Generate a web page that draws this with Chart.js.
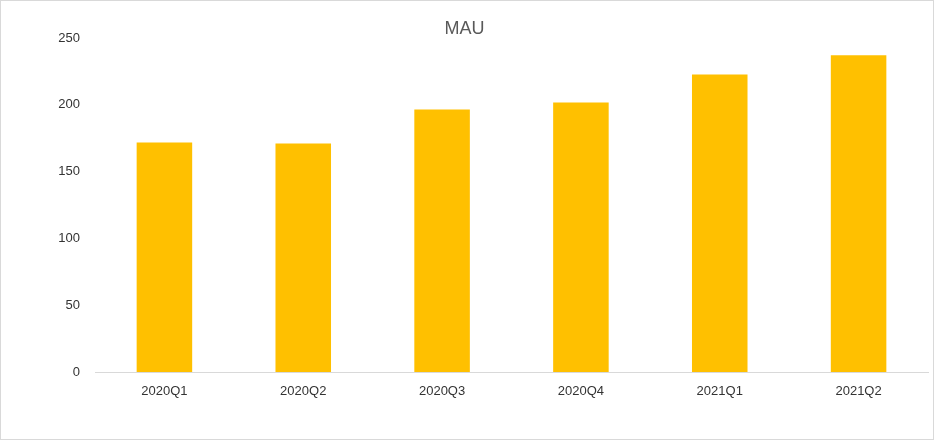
<!DOCTYPE html>
<html>
<head>
<meta charset="utf-8">
<script src="https://cdn.jsdelivr.net/npm/chart.js@4"></script>
<style>
  html, body { margin: 0; padding: 0; background: #fff; }
  #wrap {
    position: relative;
    width: 934px;
    height: 440px;
    box-sizing: border-box;
    border: 1px solid #d9d9d9;
  }
  #mau { display: block; }
</style>
</head>
<body>
<div id="wrap">
  <canvas id="mau" width="932" height="438"></canvas>
</div>
<script>
const quarters = ["2020Q1", "2020Q2", "2020Q3", "2020Q4", "2021Q1", "2021Q2"];
const mauValues = [171.7, 171.0, 196.5, 201.7, 222.7, 237.0];
const yTicks = [0, 50, 100, 150, 200, 250];

const ctx = document.getElementById("mau").getContext("2d");

new Chart(ctx, {
  type: "bar",
  data: {
    labels: quarters,
    datasets: [
      {
        label: "MAU",
        data: mauValues,
        backgroundColor: "#FFC000",
        borderWidth: 0,
        barPercentage: 0.4,
        categoryPercentage: 1.0,
      },
    ],
  },
  options: {
    responsive: false,
    animation: false,
    layout: {
      padding: { left: 0, right: 5, top: 0, bottom: 0 },
    },
    plugins: {
      legend: { display: false },
      tooltip: { enabled: false },
      title: {
        display: true,
        text: "MAU",
        color: "#595959",
        font: { family: "'Liberation Sans', Arial, sans-serif", size: 18, weight: "normal" },
        padding: { top: 17.4, bottom: -2 },
      },
    },
    scales: {
      x: {
        grid: { display: false, drawTicks: false },
        border: { display: true, color: "#d9d9d9", width: 1 },
        ticks: {
          color: "#333333",
          font: { family: "'Liberation Sans', Arial, sans-serif", size: 13 },
          padding: 12,
          maxRotation: 0,
        },
        afterFit: (scale) => {
          scale.height = 67;
        },
      },
      y: {
        min: 0,
        max: 250,
        afterBuildTicks: (scale) => {
          scale.ticks = yTicks.map((v) => ({ value: v }));
        },
        grid: { display: false, drawTicks: false },
        border: { display: false },
        ticks: {
          color: "#333333",
          font: { family: "'Liberation Sans', Arial, sans-serif", size: 13 },
          padding: 15,
        },
        afterFit: (scale) => {
          scale.width = 94;
        },
      },
    },
  },
});
</script>
</body>
</html>
